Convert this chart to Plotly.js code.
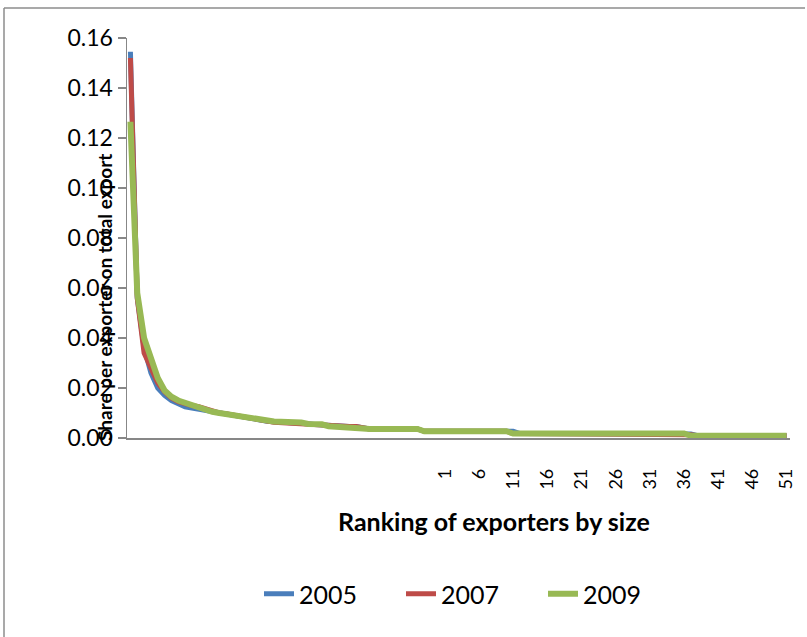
<!DOCTYPE html>
<html>
<head>
<meta charset="utf-8">
<script src="https://cdn.plot.ly/plotly-3.0.1.min.js"></script>
<style>
  html, body { margin: 0; padding: 0; background: #fff; overflow: hidden; }
  #chart { width: 807px; height: 637px; }
</style>
</head>
<body>
<div id="chart"></div>
<script>
// Category axis: first 46 categories have no label, then ranks 1..51
const blankCategoryCount = 46;
const rankLabels = ["1","2","3","4","5","6","7","8","9","10","11","12","13","14","15","16","17","18","19","20",
  "21","22","23","24","25","26","27","28","29","30","31","32","33","34","35","36","37","38","39","40",
  "41","42","43","44","45","46","47","48","49","50","51"];
const shownRankLabels = ["1","6","11","16","21","26","31","36","41","46","51"];

const seriesNames = ["2005", "2007", "2009"];

const share2005 = [0.1545,0.056,0.036,0.026,0.020,0.017,0.015,0.0135,0.0125,0.012,
  0.0115,0.011,0.0105,0.010,0.0093,0.0088,0.0083,0.0079,0.0074,0.0069,
  0.0067,0.0065,0.0064,0.0063,0.0062,0.0060,0.0057,0.0054,0.0052,0.0048,
  0.0046,0.0046,0.0046,0.0046,0.0040,0.0036,0.0036,0.0036,0.0036,0.0036,
  0.0036,0.0036,0.0036,0.0027,0.0027,0.0027,0.0027,0.0027,0.0027,0.0027,
  0.0027,0.0027,0.0027,0.0027,0.0027,0.0027,0.0027,0.0018,0.0018,0.0018,
  0.0018,0.0018,0.0018,0.0018,0.0018,0.0018,0.0018,0.0018,0.0018,0.0018,
  0.0018,0.0018,0.0018,0.0018,0.0018,0.0018,0.0018,0.0018,0.0018,0.0018,
  0.0018,0.0018,0.0016,0.0009,0.0009,0.0009,0.0009,0.0009,0.0009,0.0009,
  0.0009,0.0009,0.0009,0.0009,0.0009,0.0009,0.0009];

const share2007 = [0.152,0.056,0.034,0.028,0.022,0.0185,0.016,0.0145,0.0135,0.013,
  0.0125,0.0115,0.0105,0.010,0.0097,0.0093,0.0088,0.0083,0.0077,0.0072,
  0.0068,0.0063,0.0061,0.0060,0.0060,0.0058,0.0056,0.0055,0.0053,0.0047,
  0.0046,0.0046,0.0046,0.0046,0.0039,0.0036,0.0036,0.0036,0.0036,0.0036,
  0.0036,0.0036,0.0036,0.0027,0.0027,0.0027,0.0027,0.0027,0.0027,0.0027,
  0.0027,0.0027,0.0027,0.0027,0.0027,0.0027,0.0018,0.0018,0.0018,0.0018,
  0.0018,0.0018,0.0018,0.0018,0.0018,0.0018,0.0018,0.0018,0.0018,0.0018,
  0.0018,0.0018,0.0018,0.0018,0.0018,0.0018,0.0018,0.0018,0.0018,0.0018,
  0.0018,0.0018,0.0013,0.0009,0.0009,0.0009,0.0009,0.0009,0.0009,0.0009,
  0.0009,0.0009,0.0009,0.0009,0.0009,0.0009,0.0009];

const share2009 = [0.1265,0.058,0.040,0.031,0.024,0.019,0.0165,0.015,0.014,0.013,
  0.012,0.0112,0.0105,0.010,0.0095,0.009,0.0085,0.008,0.0076,0.0072,
  0.0069,0.0066,0.0065,0.0065,0.0064,0.0062,0.0056,0.0056,0.0055,0.0047,
  0.0046,0.0046,0.0046,0.0045,0.0038,0.0036,0.0036,0.0036,0.0036,0.0036,
  0.0036,0.0036,0.0036,0.0027,0.0027,0.0027,0.0027,0.0027,0.0027,0.0027,
  0.0027,0.0027,0.0027,0.0027,0.0027,0.0027,0.0018,0.0018,0.0018,0.0018,
  0.0018,0.0018,0.0018,0.0018,0.0018,0.0018,0.0018,0.0018,0.0018,0.0018,
  0.0018,0.0018,0.0018,0.0018,0.0018,0.0018,0.0018,0.0018,0.0018,0.0018,
  0.0018,0.0018,0.0009,0.0009,0.0009,0.0009,0.0009,0.0009,0.0009,0.0009,
  0.0009,0.0009,0.0009,0.0009,0.0009,0.0009,0.0009];

const seriesColors = ["#4A7EBB", "#BE4B48", "#98B954"];
const seriesWidths = [5, 5, 6];

const yTitle = "Share per exporter on total export";
const xTitle = "Ranking of exporters by size";

// category positions
const categoryCount = share2005.length;
const xIdx = share2005.map((_, i) => i);
const tickvals = shownRankLabels.map(l => blankCategoryCount + rankLabels.indexOf(l));

const allSeries = [share2005, share2007, share2009];
const traces = allSeries.map((ys, s) => ({
  type: "scatter",
  mode: "lines",
  name: seriesNames[s],
  x: xIdx,
  y: ys,
  line: { color: seriesColors[s], width: seriesWidths[s] },
  hoverinfo: "skip"
}));

const W = 807, H = 637;
const M = { l: 127, r: 17, t: 38, b: 199 };
const pw = W - M.l - M.r, ph = H - M.t - M.b;
const px = v => (v - M.l) / pw;        // pixel x -> paper
const py = v => (H - M.b - v) / ph;    // pixel y -> paper

const font = "Lato, 'Open Sans', sans-serif";

const layout = {
  width: W, height: H,
  margin: M,
  paper_bgcolor: "#fff",
  plot_bgcolor: "#fff",
  showlegend: true,
  xaxis: {
    range: [-0.5, categoryCount - 0.5],
    showgrid: false, zeroline: false,
    showline: true, linecolor: "#878787", linewidth: 1.5,
    ticks: "",
    tickmode: "array",
    tickvals: tickvals,
    ticktext: shownRankLabels,
    tickangle: -90,
    ticklabelstandoff: 22,
    tickfont: { family: font, size: 18, color: "#000" },
    fixedrange: true
  },
  yaxis: {
    range: [0, 0.16],
    dtick: 0.02,
    tickformat: ".2f",
    showgrid: false, zeroline: false,
    showline: true, linecolor: "#878787", linewidth: 1.5,
    ticks: "outside", ticklen: 8, tickcolor: "#878787", tickwidth: 1.5,
    tickfont: { family: font, size: 23, color: "#000" },
    fixedrange: true
  },
  legend: {
    orientation: "h",
    x: px(259), xanchor: "left",
    y: py(594), yanchor: "middle",
    font: { family: font, size: 25, color: "#000" },
    entrywidth: 97,
    traceorder: "normal",
    bgcolor: "rgba(0,0,0,0)"
  },
  annotations: [
    {
      text: "<b>" + yTitle + "</b>",
      xref: "paper", yref: "paper",
      x: px(104), y: py(298),
      xanchor: "center", yanchor: "middle",
      textangle: -90,
      showarrow: false,
      font: { family: font, size: 19, color: "#000" }
    },
    {
      text: "<b>" + xTitle + "</b>",
      xref: "paper", yref: "paper",
      x: px(494), y: py(521),
      xanchor: "center", yanchor: "middle",
      showarrow: false,
      font: { family: font, size: 25, color: "#000" }
    }
  ],
  shapes: [
    {
      type: "line", xref: "paper", yref: "paper",
      x0: px(4), x1: px(4), y0: py(H + 5), y1: py(8),
      line: { color: "#8C8C8C", width: 1.5 },
      layer: "below"
    },
    {
      type: "line", xref: "paper", yref: "paper",
      x0: px(4), x1: px(W - 2), y0: py(8), y1: py(8),
      line: { color: "#8C8C8C", width: 1.5 },
      layer: "below"
    }
  ]
};

Plotly.newPlot("chart", traces, layout, { staticPlot: true, displayModeBar: false });
</script>
</body>
</html>
